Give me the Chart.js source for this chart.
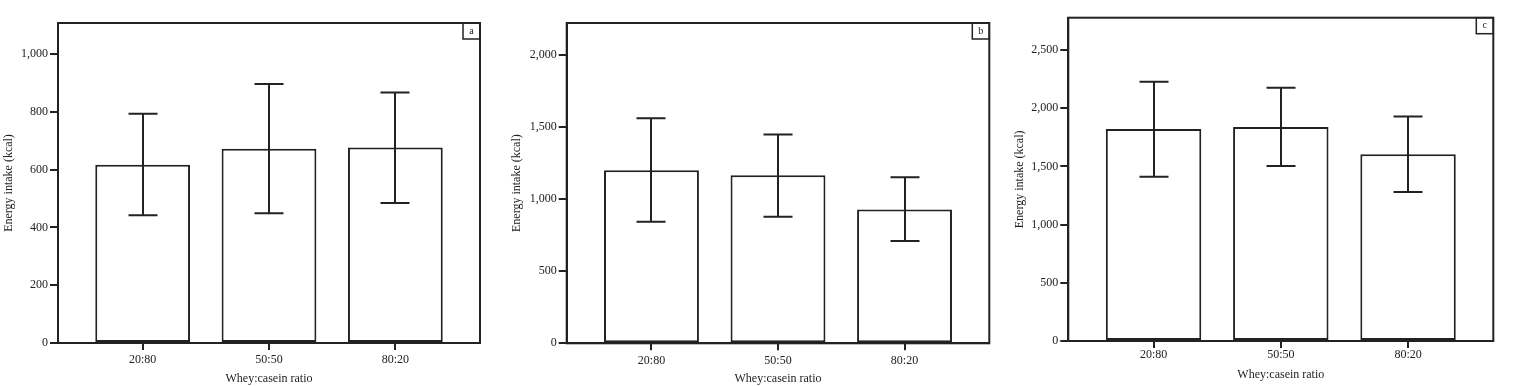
<!DOCTYPE html>
<html>
<head>
<meta charset="utf-8">
<script src="https://cdn.jsdelivr.net/npm/chart.js@4.4.0/dist/chart.umd.min.js"></script>
<style>
  html, body { margin: 0; padding: 0; background: #fff; }
  .panel { position: absolute; top: 0; height: 386px; }
</style>
</head>
<body>
<div class="panel" style="left:0px;width:500px"><canvas id="pa"></canvas></div>
<div class="panel" style="left:500px;width:505px"><canvas id="pb"></canvas></div>
<div class="panel" style="left:1005px;width:509px"><canvas id="pc"></canvas></div>
<script>
var categories = ["20:80", "50:50", "80:20"];

// panel a
var meanA = [617, 672, 676];
var lowA = [442, 449, 484];
var highA = [793, 896, 867];
var ticksA = [0, 200, 400, 600, 800, 1000];

// panel b
var meanB = [1199, 1165, 927];
var lowB = [842, 876, 708];
var highB = [1559, 1446, 1151];
var ticksB = [0, 500, 1000, 1500, 2000];

// panel c
var meanC = [1821, 1838, 1604];
var lowC = [1412, 1503, 1280];
var highC = [2228, 2176, 1930];
var ticksC = [0, 500, 1000, 1500, 2000, 2500];

var INK = "#222222";
var FONT = "'Liberation Serif', 'DejaVu Serif', serif";

var framePlugin = {
	id: "frame",
	afterDatasetsDraw: function(chart) {
		var ctx = chart.ctx;
		var a = chart.chartArea;
		var o = chart.options.plugins.frame;
		var xs = chart.scales.x, ys = chart.scales.y;
		ctx.save();
		ctx.strokeStyle = INK;
		// error bars
		ctx.lineWidth = 2;
		for (var i = 0; i < o.low.length; i++) {
			var cx = Math.round(xs.getPixelForValue(i));
			var y1 = ys.getPixelForValue(o.low[i]);
			var y2 = ys.getPixelForValue(o.high[i]);
			ctx.beginPath();
			ctx.moveTo(cx, y1); ctx.lineTo(cx, y2);
			ctx.moveTo(cx - 14.5, y1); ctx.lineTo(cx + 14.5, y1);
			ctx.moveTo(cx - 14.5, y2); ctx.lineTo(cx + 14.5, y2);
			ctx.stroke();
		}
		// box round the plot
		ctx.lineWidth = 2;
		ctx.strokeRect(a.left, a.top, a.right - a.left, a.bottom - a.top);
		// letter box
		ctx.lineWidth = 1.5;
		ctx.strokeRect(a.right - 17, a.top, 17, 16);
		ctx.fillStyle = INK;
		ctx.font = "10px " + FONT;
		ctx.textAlign = "center";
		ctx.textBaseline = "middle";
		ctx.fillText(o.letter, a.right - 8.5, a.top + 8);
		ctx.restore();
	}
};

function makePanel(id, mean, low, high, yTicks, yMax, letter, geo) {
	return new Chart(id, {
		type: "bar",
		data: {
			datasets: [{
				data: mean.map(function(v, i) { return {x: i, y: v}; }),
				backgroundColor: "#ffffff",
				borderColor: INK,
				borderWidth: 2,
				borderSkipped: false,
				categoryPercentage: 0.75,
				barPercentage: 1
			}]
		},
		options: {
			responsive: true,
			maintainAspectRatio: false,
			animation: false,
			locale: "en-US",
			layout: {padding: {left: geo.left, top: geo.top, right: geo.right, bottom: 0}},
			plugins: {
				legend: {display: false},
				tooltip: {enabled: false},
				frame: {low: low, high: high, letter: letter}
			},
			scales: {
				x: {
					type: "linear",
					offset: false,
					min: -0.67,
					max: 2.67,
					afterFit: function(s) { s.height = geo.xh; },
					afterBuildTicks: function(s) { s.ticks = [{value: 0}, {value: 1}, {value: 2}]; },
					grid: {offset: false, drawOnChartArea: false, drawTicks: true, tickLength: 7, color: INK, lineWidth: 2},
					border: {display: true, color: INK, width: 2},
					ticks: {
						padding: geo.tickPad,
						color: INK,
						font: {family: FONT, size: 12},
						callback: function(v) { return categories[v]; }
					},
					title: {
						display: true,
						text: "Whey:casein ratio",
						color: INK,
						font: {family: FONT, size: 12},
						padding: {top: 0, bottom: geo.titlePad}
					}
				},
				y: {
					min: 0,
					max: yMax,
					afterFit: function(s) { s.width = geo.yw; },
					afterBuildTicks: function(s) { s.ticks = yTicks.map(function(v) { return {value: v}; }); },
					grid: {drawOnChartArea: false, drawTicks: true, tickLength: 8, color: INK, lineWidth: 2},
					border: {display: true, color: INK, width: 2},
					ticks: {
						padding: 2,
						color: INK,
						font: {family: FONT, size: 12}
					},
					title: {
						display: true,
						text: "Energy intake (kcal)",
						color: INK,
						font: {family: FONT, size: 12},
						padding: {top: 2, bottom: 0}
					}
				}
			}
		},
		plugins: [framePlugin]
	});
}

makePanel("pa", meanA, lowA, highA, ticksA, 1107, "a",
	{left: 0, top: 23, right: 20, yw: 58, xh: 43, tickPad: 3, titlePad: 0});
makePanel("pb", meanB, lowB, highB, ticksB, 2219, "b",
	{left: 8, top: 23, right: 15.7, yw: 58.7, xh: 42.7, tickPad: 3, titlePad: 0});
makePanel("pc", meanC, lowC, highC, ticksC, 2778, "c",
	{left: 6, top: 17.7, right: 20.7, yw: 57.3, xh: 45, tickPad: 0, titlePad: 4});
</script>
</body>
</html>
